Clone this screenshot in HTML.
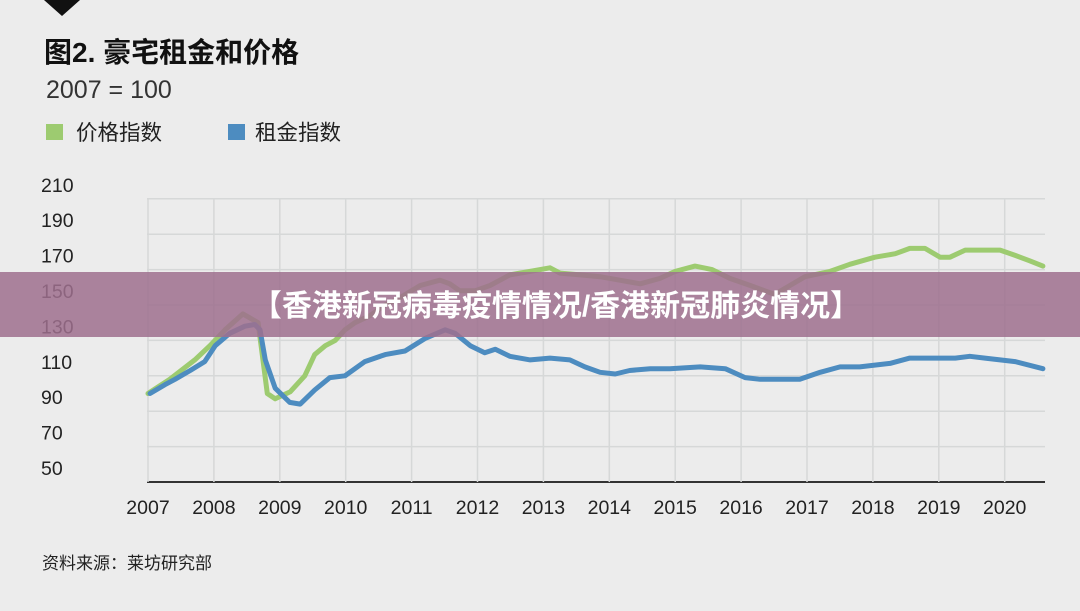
<!DOCTYPE html>
<html><head><meta charset="utf-8">
<style>
html,body{margin:0;padding:0;background:#ececec;}
body{width:1080px;height:611px;overflow:hidden;position:relative;font-family:"Liberation Sans","Noto Sans CJK SC",sans-serif;}
</style></head>
<body>
<svg id="chart" width="1080" height="611" xmlns="http://www.w3.org/2000/svg" style="position:absolute;left:0;top:0">
<rect width="1080" height="611" fill="#ececec"/>
<polygon points="44,0 80,0 62,16" fill="#111"/>
<text x="44" y="62" font-size="28" font-weight="bold" fill="#111" font-family="Liberation Sans, Noto Sans CJK SC, sans-serif">图2. 豪宅租金和价格</text>
<text x="46" y="98" font-size="25" fill="#333">2007 = 100</text>
<rect x="46" y="124" width="17" height="16" fill="#9dcb70"/>
<text x="76" y="140" font-size="21.5" fill="#222" font-family="Liberation Sans, Noto Sans CJK SC, sans-serif">价格指数</text>
<rect x="228" y="124" width="17" height="16" fill="#4d8cc0"/>
<text x="255" y="140" font-size="21.5" fill="#222" font-family="Liberation Sans, Noto Sans CJK SC, sans-serif">租金指数</text>
<g id="grid"></g>
<g id="series"></g>
<text x="42" y="569" font-size="17" fill="#222" font-family="Liberation Sans, Noto Sans CJK SC, sans-serif">资料来源：莱坊研究部</text>
<rect x="0" y="272" width="1080" height="65" fill="rgba(158,112,142,0.86)"/>
<text x="556" y="316" text-anchor="middle" font-size="30" font-weight="bold" fill="#fff" font-family="Liberation Sans, Noto Sans CJK SC, sans-serif">【香港新冠病毒疫情情况/香港新冠肺炎情况】</text>
</svg>
<script>
const yTicks=[50,70,90,110,130,150,170,190,210];
const xYears=[2007,2008,2009,2010,2011,2012,2013,2014,2015,2016,2017,2018,2019,2020];
const priceT=[2007,2007.33,2007.71,2007.94,2008.17,2008.44,2008.67,2008.81,2008.93,2009.16,2009.38,2009.53,2009.69,2009.84,2009.99,2010.14,2010.37,2010.6,2010.82,2011.13,2011.43,2011.58,2011.73,2011.96,2012.19,2012.49,2012.8,2013.1,2013.25,2013.56,2013.86,2014.16,2014.47,2014.77,2015.0,2015.3,2015.56,2015.83,2016.14,2016.36,2016.51,2016.74,2016.97,2017.35,2017.65,2018.03,2018.34,2018.56,2018.79,2019.02,2019.17,2019.4,2019.7,2019.93,2020.16,2020.38,2020.58];
const priceV=[100,108,119,127,136,145,140,100,97,101,110,122,127,130,136,140,144,150,154,161,164,162,158,158,161,167,169,171,168,167,166,164,162,165,169,172,170,165,161,158,156,161,166,169,173,177,179,182,182,177,177,181,181,181,178,175,172];
const rentT=[2007.03,2007.26,2007.41,2007.64,2007.86,2008.02,2008.24,2008.47,2008.62,2008.7,2008.78,2008.93,2009.15,2009.31,2009.53,2009.76,2009.99,2010.29,2010.6,2010.9,2011.2,2011.51,2011.66,2011.89,2012.11,2012.27,2012.49,2012.8,2013.1,2013.4,2013.63,2013.86,2014.09,2014.31,2014.62,2014.92,2015.38,2015.76,2016.06,2016.29,2016.67,2016.89,2017.2,2017.5,2017.8,2018.26,2018.56,2018.87,2019.25,2019.47,2019.7,2019.93,2020.16,2020.58];
const rentV=[100,105,108,113,118,127,134,138,139,136,119,103,95,94,102,109,110,118,122,124,131,136,134,127,123,125,121,119,120,119,115,112,111,113,114,114,115,114,109,108,108,108,112,115,115,117,120,120,120,121,120,119,118,114];
const X0=148,PX=65.9,Y0=482,PY=35.4/20;
const xs=t=>X0+(t-2007)*PX, ys=v=>Y0-(v-50)*PY;
const NS="http://www.w3.org/2000/svg";
const grid=document.getElementById('grid'), ser=document.getElementById('series');
yTicks.forEach(v=>{
 const l=document.createElementNS(NS,'line');
 l.setAttribute('x1',147);l.setAttribute('x2',1045);l.setAttribute('y1',ys(v));l.setAttribute('y2',ys(v));
 l.setAttribute('stroke',v===50?'#333':'#d6d8d8');l.setAttribute('stroke-width',v===50?2:1.5);
 
 
 grid.appendChild(l);
 const t=document.createElementNS(NS,'text');
 t.setAttribute('x',41);t.setAttribute('y',ys(v)-7);t.setAttribute('font-size',19.5);t.setAttribute('fill','#222');
 t.textContent=v;
 
 
 grid.appendChild(t);
});
xYears.forEach(y=>{
 const l=document.createElementNS(NS,'line');
 l.setAttribute('x1',xs(y));l.setAttribute('x2',xs(y));l.setAttribute('y1',ys(210));l.setAttribute('y2',Y0);
 l.setAttribute('stroke','#d6d8d8');l.setAttribute('stroke-width',1.5);
 
 
 grid.appendChild(l);
 const t=document.createElementNS(NS,'text');
 t.setAttribute('x',xs(y));t.setAttribute('y',514);t.setAttribute('font-size',19.5);t.setAttribute('fill','#222');t.setAttribute('text-anchor','middle');
 t.textContent=y;
 
 
 grid.appendChild(t);
});
function line(T,V,color,name){
 const p=document.createElementNS(NS,'polyline');
 p.setAttribute('points',T.map((t,i)=>xs(t).toFixed(1)+','+ys(V[i]).toFixed(1)).join(' '));
 p.setAttribute('fill','none');p.setAttribute('stroke',color);p.setAttribute('stroke-width',5);
 p.setAttribute('stroke-linejoin','round');p.setAttribute('stroke-linecap','round');
 
 
 ser.appendChild(p);
}
line(priceT,priceV,'#9dcb70','price-index-line');
line(rentT,rentV,'#4d8cc0','rent-index-line');
</script>
</body></html>
